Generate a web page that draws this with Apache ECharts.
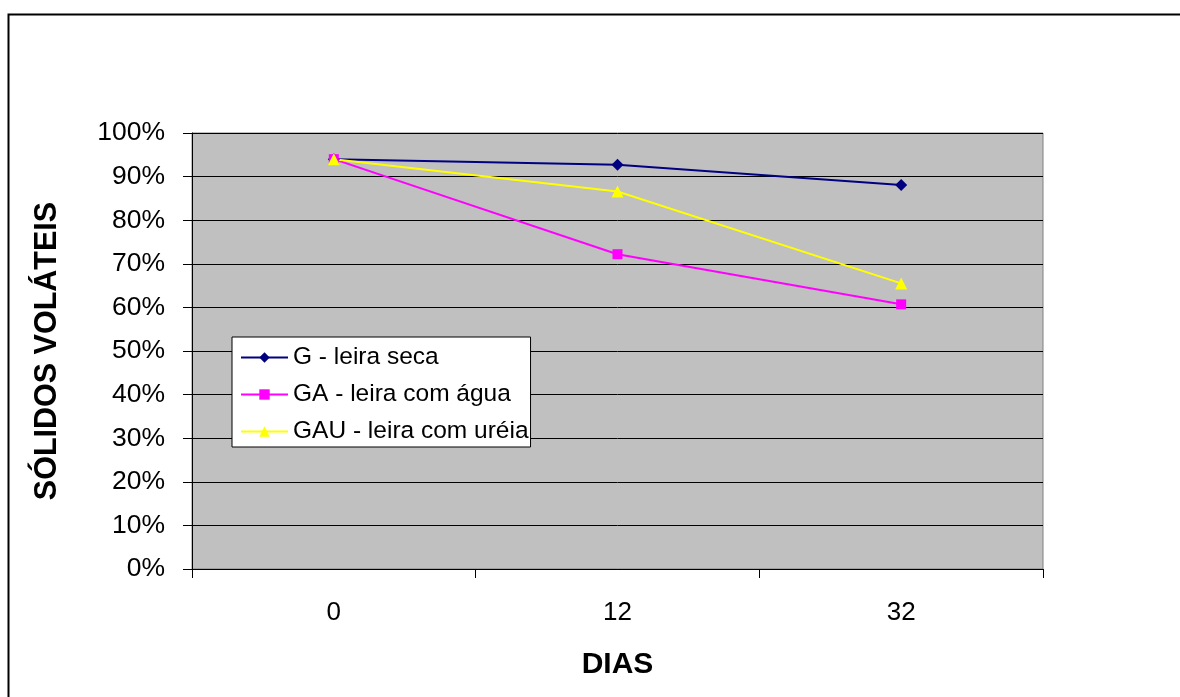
<!DOCTYPE html>
<html>
<head>
<meta charset="utf-8">
<script src="https://cdn.jsdelivr.net/npm/echarts@6/dist/echarts.min.js"></script>
<style>
html,body{margin:0;padding:0;background:#fff;}
#chart{width:1180px;height:697px;}
</style>
</head>
<body>
<div id="chart"></div>
<script>
const categories = ['0', '12', '32'];
const seriesNames = ['G - leira seca', 'GA - leira com água', 'GAU - leira com uréia'];
const gValues = [0.94, 0.927, 0.881];
const gaValues = [0.94, 0.722, 0.607];
const gauValues = [0.94, 0.866, 0.655];
const yTicks = [0, 0.1, 0.2, 0.3, 0.4, 0.5, 0.6, 0.7, 0.8, 0.9, 1.0];

const FONT = '"Liberation Sans", Arial, sans-serif';
const chart = echarts.init(document.getElementById('chart'), null, {renderer: 'canvas'});

chart.setOption({
  animation: false,
  backgroundColor: '#fff',
  textStyle: {fontFamily: FONT},
  graphic: [
    {type: 'polyline', shape: {points: [[8.5, 697], [8.5, 14.5], [1180, 14.5]]},
     style: {stroke: '#000', lineWidth: 2, fill: null}, silent: true}
  ],
  grid: {
    left: 192, top: 133, right: 137, bottom: 128,
    show: true, backgroundColor: '#c0c0c0', borderColor: '#808080', borderWidth: 1
  },
  legend: {
    orient: 'vertical',
    left: 232, top: 337,
    backgroundColor: '#fff',
    borderColor: '#000', borderWidth: 1, borderRadius: 0,
    padding: [8, 2, 3, 8],
    itemWidth: 47, itemHeight: 13, itemGap: 12,
    textStyle: {fontFamily: FONT, fontSize: 24.5, color: '#000', lineHeight: 24},
    data: seriesNames
  },
  xAxis: {
    type: 'category',
    data: categories,
    boundaryGap: true,
    axisLine: {lineStyle: {color: '#000', width: 1}},
    axisTick: {show: true, length: 9, lineStyle: {color: '#000'}},
    axisLabel: {fontFamily: FONT, fontSize: 26, color: '#000', margin: 31},
    splitLine: {show: false},
    name: 'DIAS',
    nameLocation: 'middle',
    nameGap: 81,
    nameTextStyle: {fontFamily: FONT, fontSize: 30, fontWeight: 'bold', color: '#000'}
  },
  yAxis: {
    type: 'value',
    min: yTicks[0], max: yTicks[yTicks.length - 1], interval: 0.1,
    axisLine: {show: true, lineStyle: {color: '#000', width: 1}},
    axisTick: {show: true, length: 9, lineStyle: {color: '#000'}},
    axisLabel: {fontFamily: FONT, fontSize: 26.5, color: '#000', margin: 27,
      formatter: v => Math.round(v * 100) + '%'},
    splitLine: {show: true, lineStyle: {color: '#000', width: 1}},
    name: 'SÓLIDOS VOLÁTEIS',
    nameLocation: 'middle',
    nameGap: 129,
    nameRotate: 90,
    nameTextStyle: {fontFamily: FONT, fontSize: 30.5, fontWeight: 'bold', color: '#000'}
  },
  series: [
    {name: seriesNames[0], type: 'line', data: gValues,
     symbol: 'diamond', symbolSize: 12, showAllSymbol: true,
     itemStyle: {color: '#000080'}, lineStyle: {color: '#000080', width: 2}},
    {name: seriesNames[1], type: 'line', data: gaValues,
     symbol: 'rect', symbolSize: 10,
     itemStyle: {color: '#ff00ff'}, lineStyle: {color: '#ff00ff', width: 2}},
    {name: seriesNames[2], type: 'line', data: gauValues,
     symbol: 'triangle', symbolSize: 12,
     itemStyle: {color: '#ffff00'}, lineStyle: {color: '#ffff00', width: 2}}
  ]
});
</script>
</body>
</html>
